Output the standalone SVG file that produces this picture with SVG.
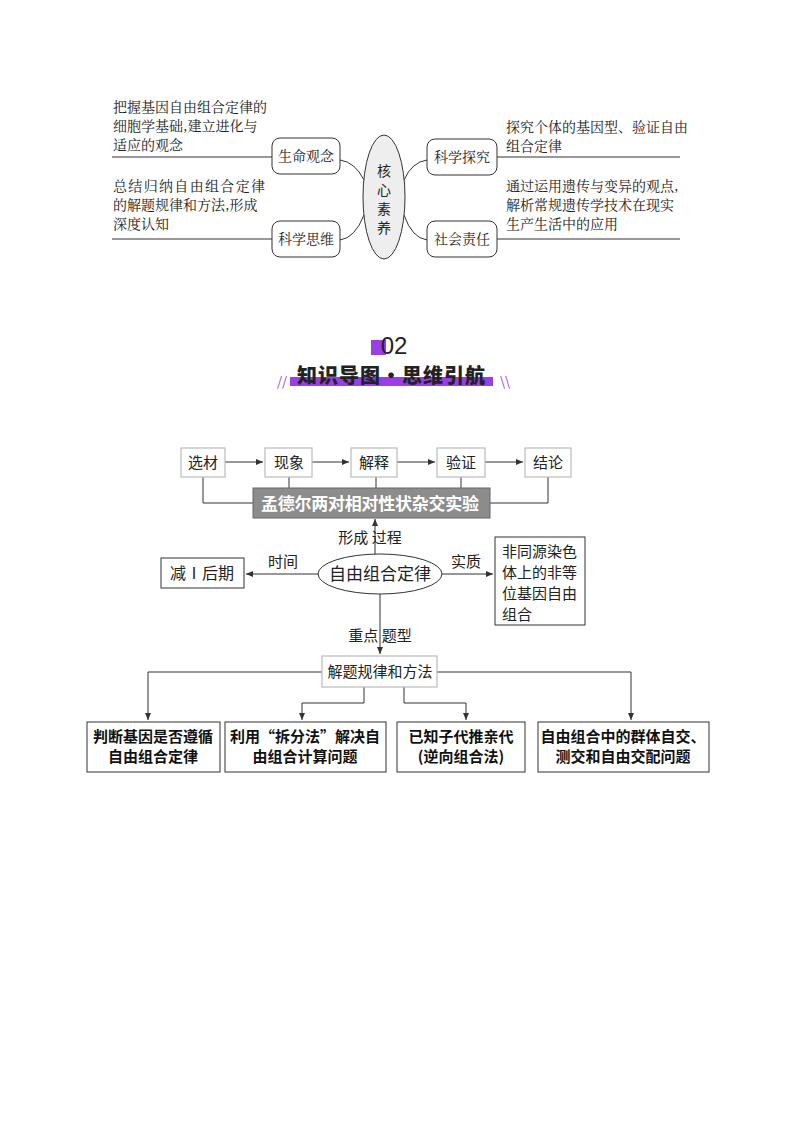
<svg xmlns="http://www.w3.org/2000/svg" width="794" height="1123" viewBox="0 0 794 1123">
<style>
text{font-family:"Noto Sans CJK SC","Liberation Sans",sans-serif;fill:#222}
.s{font-family:"Noto Serif CJK SC","Noto Sans CJK SC",serif;font-size:14px}
.ln{stroke:#333;stroke-width:1;fill:none}
.bx{fill:#fff;stroke:#333;stroke-width:1}
.gb{fill:#fff;stroke:#bbb;stroke-width:1.2}
.t{font-size:15px}
.b{font-size:15px;font-weight:bold;fill:#111}
</style>
<defs><marker id="a" markerWidth="8" markerHeight="8" refX="7" refY="4" orient="auto" markerUnits="userSpaceOnUse"><path d="M0,1 L7,4 L0,7 Z" fill="#333"/></marker></defs>
<rect width="794" height="1123" fill="#fff"/>
<g id="connectors-top" class="ln">
<path d="M112 157H272M497 157H680M112 239H272M497 239H680"/>
<path d="M340 160 Q355 162 364 180M340 240 Q355 238 364 215M427 160 Q412 162 404 180M427 240 Q412 238 404 215"/>
</g>
<g id="hexin"><ellipse cx="384" cy="197" rx="21" ry="62" fill="#eee" stroke="#333"/>
<text x="384" y="176" text-anchor="middle" font-size="14">核</text><text x="384" y="195" text-anchor="middle" font-size="14">心</text><text x="384" y="214" text-anchor="middle" font-size="14">素</text><text x="384" y="233" text-anchor="middle" font-size="14">养</text></g>
<g id="n1"><rect x="272" y="138" width="68" height="36" rx="8" class="bx"/><text class="s" x="306" y="161" text-anchor="middle">生命观念</text></g>
<g id="n2"><rect x="427" y="139" width="70" height="36" rx="8" class="bx"/><text class="s" x="462" y="162" text-anchor="middle">科学探究</text></g>
<g id="n3"><rect x="272" y="221" width="68" height="36" rx="8" class="bx"/><text class="s" x="306" y="244" text-anchor="middle">科学思维</text></g>
<g id="n4"><rect x="427" y="221" width="70" height="36" rx="8" class="bx"/><text class="s" x="462" y="244" text-anchor="middle">社会责任</text></g>
<g><text class="s" x="113" y="112">把握基因自由组合定律的</text><text class="s" x="113" y="131">细胞学基础,建立进化与</text><text class="s" x="113" y="150">适应的观念</text>
<text class="s" x="113" y="191" textLength="152">总结归纳自由组合定律</text><text class="s" x="113" y="210">的解题规律和方法,形成</text><text class="s" x="113" y="229">深度认知</text>
<text class="s" x="506" y="132">探究个体的基因型、验证自由</text><text class="s" x="506" y="151">组合定律</text>
<text class="s" x="506" y="191">通过运用遗传与变异的观点,</text><text class="s" x="506" y="210">解析常规遗传学技术在现实</text><text class="s" x="506" y="229">生产生活中的应用</text></g>
<g id="title">
<rect x="371" y="340" width="15" height="15" fill="#9b3ee8"/>
<text x="394" y="354" text-anchor="middle" font-size="24" style="font-family:'Liberation Sans',sans-serif">02</text>
<rect x="290" y="377" width="203" height="9" fill="#9b3ee8"/>
<text x="391" y="383" text-anchor="middle" font-size="20" font-weight="900" fill="#111" textLength="188">知识导图·思维引航</text>
<text x="277" y="386" font-size="13" style="fill:#9b3ee8">//</text>
<text x="500" y="386" font-size="13" style="fill:#9b3ee8">\\</text>
</g>
<g id="connectors" class="ln">
<path d="M225 462H263" marker-end="url(#a)"/><path d="M312 462H349" marker-end="url(#a)"/><path d="M397 462H435" marker-end="url(#a)"/><path d="M485 462H523" marker-end="url(#a)"/>
<path d="M203 477V503H253M548 477V503H490M289 477V488M376 477V488M461 477V488"/>
<path d="M375 555V519" marker-end="url(#a)"/>
<path d="M318 574H246" marker-end="url(#a)"/>
<path d="M442 574H493" marker-end="url(#a)"/>
<path d="M380 594V654" marker-end="url(#a)"/>
<path d="M322 672H148V720" marker-end="url(#a)"/>
<path d="M437 672H631V720" marker-end="url(#a)"/>
<path d="M364 687V703H302V720" marker-end="url(#a)"/>
<path d="M404 687V703H466V720" marker-end="url(#a)"/>
</g>
<g id="xc"><rect x="181" y="448" width="44" height="29" class="gb"/><text class="t" x="203" y="468" text-anchor="middle">选材</text></g>
<g id="xx"><rect x="265" y="448" width="47" height="29" class="gb"/><text class="t" x="289" y="468" text-anchor="middle">现象</text></g>
<g id="js"><rect x="351" y="448" width="46" height="29" class="gb"/><text class="t" x="374" y="468" text-anchor="middle">解释</text></g>
<g id="yz"><rect x="437" y="448" width="48" height="29" class="gb"/><text class="t" x="461" y="468" text-anchor="middle">验证</text></g>
<g id="jl"><rect x="525" y="448" width="46" height="29" class="gb"/><text class="t" x="548" y="468" text-anchor="middle">结论</text></g>
<g id="mdl"><rect x="253" y="488" width="237" height="30" fill="#8c8c8c" stroke="#666"/><text x="370" y="510" text-anchor="middle" font-size="17" font-weight="bold" style="fill:#fff" textLength="218">孟德尔两对相对性状杂交实验</text></g>
<text class="t" x="370" y="543" text-anchor="middle">形成 过程</text>
<text class="t" x="283" y="567" text-anchor="middle">时间</text>
<text class="t" x="466" y="567" text-anchor="middle">实质</text>
<text class="t" x="380" y="641" text-anchor="middle">重点 题型</text>
<g id="zyzh"><ellipse cx="380" cy="574" rx="62" ry="20" class="bx"/><text x="380" y="580" text-anchor="middle" font-size="17">自由组合定律</text></g>
<g id="jian"><rect x="161" y="558" width="83" height="30" class="bx"/><text x="202" y="579" text-anchor="middle" font-size="16">减Ⅰ后期</text></g>
<g id="sz"><rect x="495" y="537" width="90" height="88" class="bx"/><text x="502" y="557" font-size="15">非同源染色</text><text x="502" y="578" font-size="15">体上的非等</text><text x="502" y="599" font-size="15">位基因自由</text><text x="502" y="620" font-size="15">组合</text></g>
<g id="jt"><rect x="322" y="656" width="115" height="31" class="gb"/><text class="t" x="380" y="677" text-anchor="middle">解题规律和方法</text></g>
<g id="b1"><rect x="87" y="722" width="133" height="50" class="bx"/><text class="b" x="153" y="742" text-anchor="middle">判断基因是否遵循</text><text class="b" x="153" y="762" text-anchor="middle">自由组合定律</text></g>
<g id="b2"><rect x="225" y="722" width="161" height="50" class="bx"/><text class="b" x="305" y="742" text-anchor="middle">利用“拆分法”解决自</text><text class="b" x="305" y="762" text-anchor="middle">由组合计算问题</text></g>
<g id="b3"><rect x="397" y="722" width="128" height="50" class="bx"/><text class="b" x="461" y="742" text-anchor="middle">已知子代推亲代</text><text class="b" x="461" y="762" text-anchor="middle">(逆向组合法)</text></g>
<g id="b4"><rect x="538" y="722" width="171" height="50" class="bx"/><text class="b" x="623" y="742" text-anchor="middle">自由组合中的群体自交、</text><text class="b" x="623" y="762" text-anchor="middle">测交和自由交配问题</text></g>
</svg>
